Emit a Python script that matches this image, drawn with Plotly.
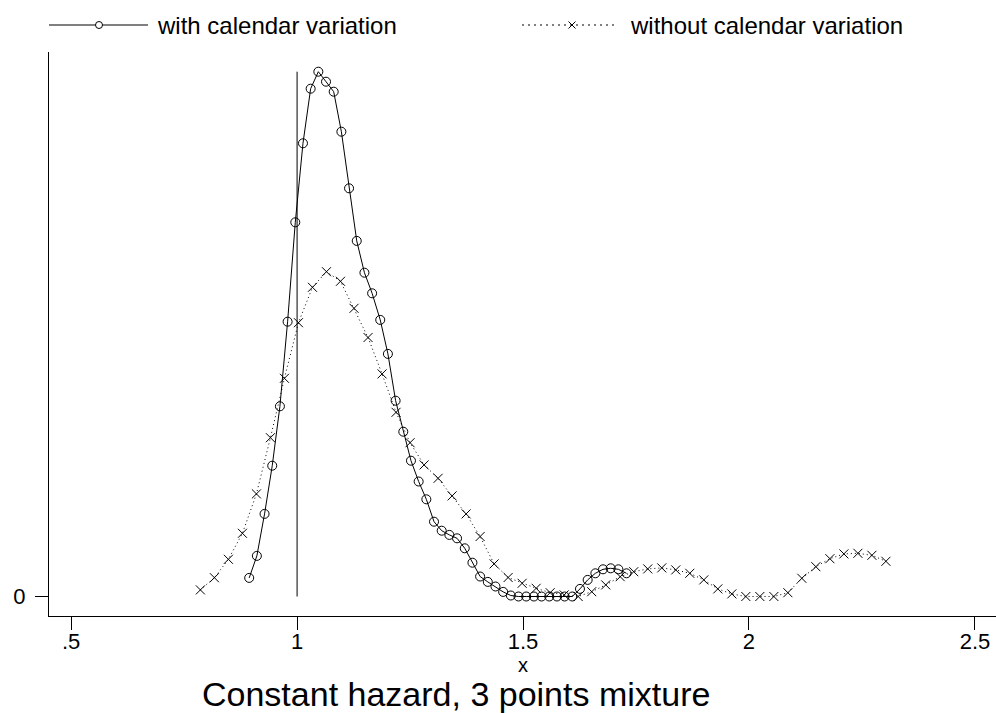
import plotly.graph_objects as go

# ---- data ----
with_cal_x = [0.894, 0.911, 0.928, 0.945, 0.962, 0.979, 0.996, 1.013, 1.030, 1.047,
              1.064, 1.081, 1.098, 1.115, 1.132, 1.149, 1.166, 1.184, 1.201, 1.218,
              1.235, 1.252, 1.269, 1.286, 1.303, 1.320, 1.337, 1.354, 1.371, 1.388,
              1.405, 1.422, 1.439, 1.456, 1.473, 1.490, 1.507, 1.524, 1.541, 1.558,
              1.575, 1.592, 1.609, 1.626, 1.643, 1.660, 1.677, 1.694, 1.711, 1.729]
with_cal_y = [0.093, 0.203, 0.413, 0.654, 0.951, 1.374, 1.871, 2.266, 2.539, 2.624,
              2.574, 2.524, 2.324, 2.041, 1.778, 1.619, 1.516, 1.383, 1.213, 0.979,
              0.824, 0.679, 0.575, 0.486, 0.374, 0.329, 0.308, 0.291, 0.241, 0.169,
              0.100, 0.073, 0.050, 0.023, 0.005, 0.000, 0.000, 0.000, 0.000, 0.000,
              0.000, 0.000, 0.000, 0.038, 0.083, 0.116, 0.136, 0.141, 0.136, 0.116]

without_cal_x = [0.786, 0.817, 0.848, 0.879, 0.910, 0.941, 0.972, 1.003, 1.034, 1.065,
                 1.096, 1.126, 1.157, 1.188, 1.219, 1.250, 1.281, 1.312, 1.343, 1.374,
                 1.405, 1.436, 1.467, 1.498, 1.529, 1.560, 1.591, 1.622, 1.652, 1.683,
                 1.715, 1.745, 1.776, 1.807, 1.838, 1.869, 1.900, 1.931, 1.962, 1.993,
                 2.024, 2.055, 2.086, 2.117, 2.148, 2.179, 2.210, 2.241, 2.272, 2.303]
without_cal_y = [0.033, 0.094, 0.186, 0.316, 0.513, 0.794, 1.091, 1.369, 1.546, 1.624,
                 1.576, 1.441, 1.295, 1.113, 0.921, 0.769, 0.658, 0.591, 0.503, 0.413,
                 0.300, 0.163, 0.095, 0.066, 0.041, 0.019, 0.008, 0.000, 0.024, 0.058,
                 0.099, 0.124, 0.138, 0.143, 0.133, 0.116, 0.083, 0.038, 0.013, 0.000,
                 0.000, 0.000, 0.019, 0.091, 0.149, 0.189, 0.213, 0.216, 0.206, 0.176]

ref_x = 1.0
x_tick_vals = [0.5, 1, 1.5, 2, 2.5]
x_tick_text = [".5", "1", "1.5", "2", "2.5"]
y_tick_vals = [0]
y_tick_text = ["0"]

series_names = ["with calendar variation", "without calendar variation"]
title_text = "Constant hazard, 3 points mixture"
x_title = "x"

FONT = "Liberation Sans, Arial, Helvetica, sans-serif"

fig = go.Figure()

# vertical reference line at x = 1 from 0 to the peak
fig.add_trace(go.Scatter(
    x=[ref_x, ref_x], y=[0, max(with_cal_y)], mode="lines",
    line=dict(color="black", width=1), showlegend=False, hoverinfo="skip"))

fig.add_trace(go.Scatter(
    x=with_cal_x, y=with_cal_y, mode="lines+markers", name=series_names[0],
    line=dict(color="black", width=1),
    marker=dict(symbol="circle-open", size=9, color="black", line=dict(width=1, color="black")),
    showlegend=False))

fig.add_trace(go.Scatter(
    x=without_cal_x, y=without_cal_y, mode="lines+markers", name=series_names[1],
    line=dict(color="black", width=1, dash="1px,3px"),
    marker=dict(symbol="x-thin-open", size=9, color="black", line=dict(width=1, color="black")),
    showlegend=False))

# ---- layout geometry ----
L, R, T, B = 49, 0, 52, 97
W, H = 996, 713
pw, ph = W - L - R, H - T - B

def px_x(p):
    return (p - L) / pw

def px_y(p):
    return (H - B - p) / ph

shapes = []
annotations = []

# manual legend (Stata style: long line with marker in middle)
leg_y = px_y(25)
# item 1
shapes.append(dict(type="line", xref="paper", yref="paper",
                   x0=px_x(49), x1=px_x(148), y0=leg_y, y1=leg_y,
                   line=dict(color="black", width=1)))
shapes.append(dict(type="circle", xref="paper", yref="paper",
                   xsizemode="pixel", ysizemode="pixel",
                   xanchor=px_x(99), yanchor=leg_y,
                   x0=-3.5, x1=3.5, y0=-3.5, y1=3.5,
                   fillcolor="white", line=dict(color="black", width=1)))
annotations.append(dict(text=series_names[0], xref="paper", yref="paper",
                        x=px_x(155), y=leg_y, xanchor="left", yanchor="middle",
                        showarrow=False, font=dict(family=FONT, size=24, color="black")))
# item 2
shapes.append(dict(type="line", xref="paper", yref="paper",
                   x0=px_x(522), x1=px_x(618), y0=leg_y, y1=leg_y,
                   line=dict(color="black", width=1, dash="2px,4px")))
for sgn in (1, -1):
    shapes.append(dict(type="line", xref="paper", yref="paper",
                       xsizemode="pixel", ysizemode="pixel",
                       xanchor=px_x(572), yanchor=leg_y,
                       x0=-3.5, x1=3.5, y0=-3.5 * sgn, y1=3.5 * sgn,
                       line=dict(color="black", width=1)))
annotations.append(dict(text=series_names[1], xref="paper", yref="paper",
                        x=px_x(628), y=leg_y, xanchor="left", yanchor="middle",
                        showarrow=False, font=dict(family=FONT, size=24, color="black")))

# x axis title (placed as annotation for exact position)
annotations.append(dict(text=x_title, xref="paper", yref="paper",
                        x=0.5, y=px_y(665), xanchor="center", yanchor="middle",
                        showarrow=False, font=dict(family=FONT, size=20, color="black")))

# bottom title
annotations.append(dict(text=title_text, xref="paper", yref="paper",
                        x=px_x(456), y=px_y(694), xanchor="center", yanchor="middle",
                        showarrow=False, font=dict(family=FONT, size=34, color="black")))

fig.update_layout(
    width=W, height=H,
    margin=dict(l=L, r=R, t=T, b=B, pad=0),
    paper_bgcolor="white", plot_bgcolor="white",
    font=dict(family=FONT, color="black"),
    shapes=shapes, annotations=annotations,
    showlegend=False,
)

fig.update_xaxes(
    range=[0.451, 2.5466], tickmode="array", tickvals=x_tick_vals, ticktext=x_tick_text,
    ticks="outside", ticklen=13, tickwidth=1, tickcolor="black",
    showline=True, linecolor="black", linewidth=1, mirror=False,
    showgrid=False, zeroline=False, ticklabelstandoff=-7,
    tickfont=dict(family=FONT, size=22, color="black"),
)
fig.update_yaxes(
    range=[-0.0975, 2.7225], tickmode="array", tickvals=y_tick_vals, ticktext=y_tick_text,
    ticks="outside", ticklen=13, tickwidth=1, tickcolor="black",
    showline=True, linecolor="black", linewidth=1, mirror=False,
    showgrid=False, zeroline=False, ticklabelstandoff=5,
    tickfont=dict(family=FONT, size=22, color="black"),
)

fig.write_html("out.html", config={"displayModeBar": False},
               post_script="document.body.style.margin='0px';document.body.style.overflow='hidden';")
